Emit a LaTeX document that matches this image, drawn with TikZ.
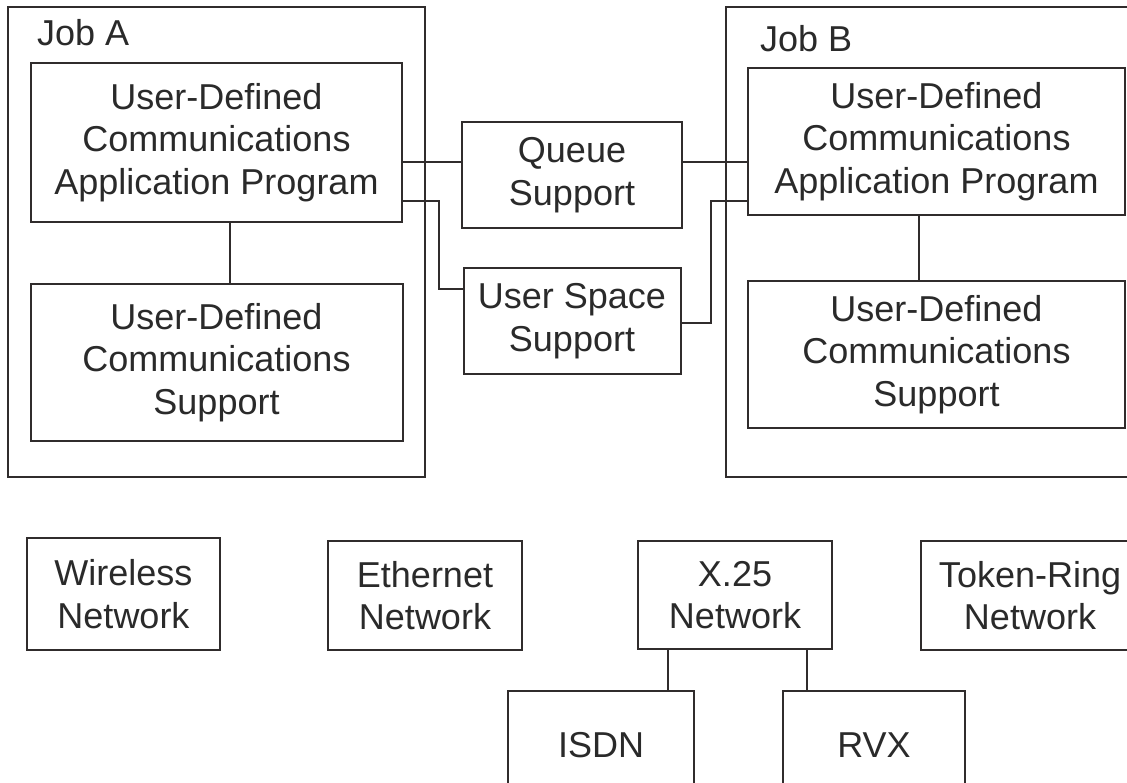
\documentclass[tikz,border=0pt]{standalone}
\usepackage{fontspec}
\setmainfont{Liberation Sans}
\usepackage{xcolor}
\usetikzlibrary{positioning, calc}

\definecolor{linegray}{HTML}{302C2C}
\definecolor{textgray}{HTML}{2A2A2A}

\begin{document}
\begin{tikzpicture}[
        x=1pt, y=-1pt,
        node distance=60pt and 60pt,
        frame/.style={rectangle, draw=linegray, line width=2pt, inner sep=0pt},
        block/.style={rectangle, draw=linegray, line width=2pt, inner sep=0pt, align=center, text=textgray, font=\fontsize{36pt}{42.5pt}\selectfont},
        joblabel/.style={anchor=base west, inner sep=0pt, text=textgray, font=\fontsize{36pt}{42.5pt}\selectfont},
        link/.style={draw=linegray, line width=2pt}
    ]
        \path[use as bounding box, clip] (0,0) rectangle (1127,782);

        % Jobs
        \node[frame, minimum width=417pt, minimum height=470pt] (jobA) at (216.5,242) {};
        \node[frame, minimum width=420pt, minimum height=470pt] (jobB) at (936,242) {};
        \node[joblabel] (labelA) at (37,45) {Job A};
        \node[joblabel] (labelB) at (760,51) {Job B};

        % Job A
        \node[block, minimum width=371pt, minimum height=159pt] (appA) at (216.5,142.5) {User-Defined\\Communications\\Application Program};
        \node[block, minimum width=372pt, minimum height=157pt, below=60pt of appA] (suppA) {User-Defined\\Communications\\Support};

        % Job B
        \node[block, minimum width=377pt, minimum height=147pt] (appB) at (936.5,141.5) {User-Defined\\Communications\\Application Program};
        \node[block, minimum width=377pt, minimum height=147pt, below=64pt of appB] (suppB) {User-Defined\\Communications\\Support};

        % Supports between the jobs
        \node[block, minimum width=220pt, minimum height=106pt] (queue) at (572,175) {Queue\\Support};
        \node[block, minimum width=217pt, minimum height=106pt, below=38pt of queue] (uspace) {User Space\\Support};

        % Networks
        \node[block, minimum width=193pt, minimum height=112pt] (wireless) at (123.5,594) {Wireless\\Network};
        \node[block, minimum width=194pt, minimum height=109pt] (ethernet) at (425,595.5) {Ethernet\\Network};
        \node[block, minimum width=194pt, minimum height=108pt] (x25) at (735,595) {X.25\\Network};
        \node[block, minimum width=218pt, minimum height=109pt] (token) at (1030,595.5) {Token-Ring\\Network};
        \node[block, minimum width=186pt, minimum height=108pt] (isdn) at (601,745) {ISDN};
        \node[block, minimum width=182pt, minimum height=108pt] (rvx) at (874,745) {RVX};

        % Connections
        \draw[link] ([yshift=-19.5pt]appA.east) -- ([yshift=-19.5pt]appA.east -| queue.west);
        \draw[link] ([yshift=13pt]queue.east) -- ([yshift=13pt]queue.east -| appB.west);
        \draw[link] ([yshift=-58.5pt]appA.east) -- ++(36pt,0) |- ([yshift=32pt]uspace.west);
        \draw[link] ([yshift=-2pt]uspace.east) -- ++(29pt,0) |- ([yshift=-59.5pt]appB.west);
        \draw[link] ([xshift=13.5pt]appA.south) -- ([xshift=13.5pt]appA.south |- suppA.north);
        \draw[link] ([xshift=-17.5pt]appB.south) -- ([xshift=-17.5pt]appB.south |- suppB.north);
        \draw[link] ([xshift=-67pt]x25.south) -- ([xshift=-67pt]x25.south |- isdn.north);
        \draw[link] ([xshift=72pt]x25.south) -- ([xshift=72pt]x25.south |- rvx.north);
    \end{tikzpicture}
\end{document}
